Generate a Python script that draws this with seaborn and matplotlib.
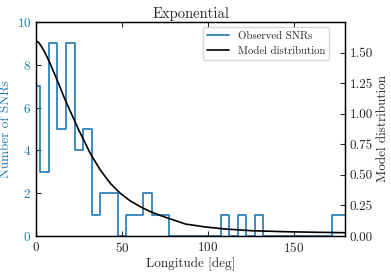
import numpy as np
import pandas as pd
import matplotlib
matplotlib.use("Agg")
import matplotlib.pyplot as plt
from matplotlib.lines import Line2D
import seaborn as sns

# ---- data ----
bin_centers = list(range(0, 185, 5))
snr_counts = [7, 3, 9, 5, 9, 4, 5, 1, 2, 2, 0, 1, 1, 2, 1, 1,
              0, 0, 0, 0, 0, 0, 1, 0, 1, 0, 1,
              0, 0, 0, 0, 0, 0, 0, 0, 1, 1]
model_lon = [0, 1.4, 2.7, 4.7, 7.6, 10.5, 13.4, 16.3, 19.3, 22.2, 25.1, 28,
             31.5, 37.4, 43.2, 49, 54.9, 60.7, 66.5, 72.4, 78.2, 87, 98.7,
             110.3, 125.9, 145.4, 164.8, 180]
model_val = [1.595, 1.585, 1.56, 1.513, 1.43, 1.335, 1.238, 1.137, 1.041, 0.951,
             0.861, 0.78, 0.678, 0.541, 0.432, 0.35, 0.287, 0.24, 0.2, 0.168,
             0.14, 0.098, 0.074, 0.057, 0.043, 0.035, 0.030, 0.027]
left_ticks = [0, 2, 4, 6, 8, 10]
right_ticks = [0.0, 0.25, 0.5, 0.75, 1.0, 1.25, 1.5]
x_ticks = [0, 50, 100, 150]

sns.set_style("ticks")
plt.rcParams["font.family"] = ["cmr10", "DejaVu Serif"]
plt.rcParams["mathtext.fontset"] = "cm"
plt.rcParams["axes.formatter.use_mathtext"] = True
plt.rcParams["axes.unicode_minus"] = False

blue = "#1f77b4"

fig = plt.figure(figsize=(3.91, 2.74), dpi=100)
ax = fig.add_axes([36/391, 1-236/274, (345-36)/391, (236-22)/274])
ax2 = ax.twinx()

df = pd.DataFrame({"lon": bin_centers, "n": snr_counts})
sns.histplot(data=df, x="lon", weights="n", binwidth=5, binrange=(-2.5, 182.5),
             element="step", fill=False, color=blue, linewidth=1.2, ax=ax)

mdf = pd.DataFrame({"lon": model_lon, "val": model_val})
sns.lineplot(data=mdf, x="lon", y="val", color="black", linewidth=1.2, ax=ax2)

ax.set_xlim(0, 180)
ax.set_ylim(0, 10)
ax2.set_ylim(0, 1.75)
ax.set_xticks(x_ticks)
ax.set_yticks(left_ticks)
ax2.set_yticks(right_ticks)
ax2.set_yticklabels([f"{t:.2f}" for t in right_ticks])

ax.tick_params(axis="both", direction="in", labelsize=9.5, top=True, length=3.5, width=0.8)
ax.tick_params(axis="y", labelcolor=blue)
ax2.tick_params(axis="y", direction="in", labelsize=9.5, length=3.5, width=0.8)

ax.set_xlabel("Longitude [deg]", fontsize=9.5, labelpad=2)
ax.set_ylabel("Number of SNRs", fontsize=9.5, color=blue, labelpad=3)
ax2.set_ylabel("Model distribution", fontsize=9.5, labelpad=3)
ax.set_title("Exponential", fontsize=10.5, pad=3)

for a in (ax, ax2):
    for s in a.spines.values():
        s.set_color("black")
        s.set_linewidth(0.9)

handles = [Line2D([], [], color=blue, lw=1.2), Line2D([], [], color="black", lw=1.2)]
leg = ax2.legend(handles, ["Observed SNRs", "Model distribution"], loc="upper right",
                 bbox_to_anchor=(0.949, 0.978), borderaxespad=0, fontsize=7.8,
                 frameon=True, fancybox=True, framealpha=0.8, edgecolor="#cccccc")

fig.savefig("out.png", dpi=100)
